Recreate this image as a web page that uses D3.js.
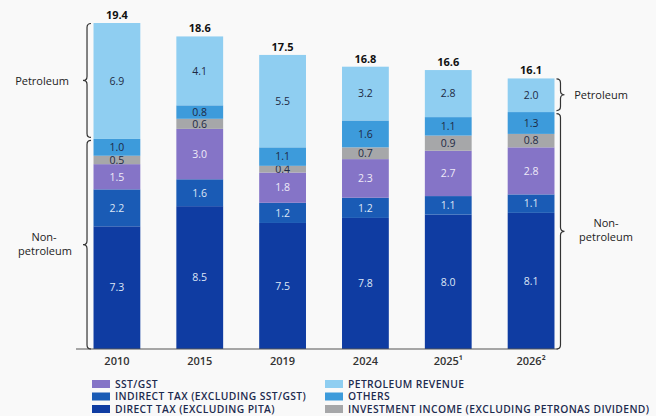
<!DOCTYPE html>
<html>
<head>
<meta charset="utf-8">
<script src="https://cdn.jsdelivr.net/npm/d3@7"></script>
<style>
  html, body { margin: 0; padding: 0; background: #f9f9f9; }
  svg { display: block; font-family: "Open Sans", "DejaVu Sans", sans-serif; }
</style>
</head>
<body>
<svg id="chart" width="656" height="416"></svg>
<script>
// ---- data ----
const years = ["2010", "2015", "2019", "2024", "2025¹", "2026²"];
const directTax = [7.3, 8.5, 7.5, 7.8, 8.0, 8.1];
const indirectTax = [2.2, 1.6, 1.2, 1.2, 1.1, 1.1];
const sstGst = [1.5, 3.0, 1.8, 2.3, 2.7, 2.8];
const investmentIncome = [0.5, 0.6, 0.4, 0.7, 0.9, 0.8];
const others = [1.0, 0.8, 1.1, 1.6, 1.1, 1.3];
const petroleumRevenue = [6.9, 4.1, 5.5, 3.2, 2.8, 2.0];
const totals = [19.4, 18.6, 17.5, 16.8, 16.6, 16.1];

const seriesKeys = ["direct", "indirect", "sst", "invest", "others", "petroleum"];
const seriesNames = {
  sst: "SST/GST",
  indirect: "INDIRECT TAX (EXCLUDING SST/GST)",
  direct: "DIRECT TAX (EXCLUDING PITA)",
  petroleum: "PETROLEUM REVENUE",
  others: "OTHERS",
  invest: "INVESTMENT INCOME (EXCLUDING PETRONAS DIVIDEND)"
};
const colors = {
  direct: "#0f3ca2",
  indirect: "#1a5bb5",
  sst: "#8574c7",
  invest: "#a6a7a9",
  others: "#3d9bdb",
  petroleum: "#8fcef1"
};
const labelColors = {
  direct: "#dde6f6",
  indirect: "#dde6f6",
  sst: "#eeeaf8",
  invest: "#1e2a44",
  others: "#1e2a44",
  petroleum: "#1e2a44"
};

const table = years.map((y, i) => ({
  year: y,
  direct: directTax[i],
  indirect: indirectTax[i],
  sst: sstGst[i],
  invest: investmentIncome[i],
  others: others[i],
  petroleum: petroleumRevenue[i],
  total: totals[i]
}));

const svg = d3.select("#chart");

const x = d3.scaleBand()
  .domain(years)
  .range([75.5, 572.5])
  .paddingInner(0.435)
  .paddingOuter(0.2175);

const y = d3.scaleLinear()
  .domain([0, 19.4])
  .range([349, 23]);

const stacked = d3.stack().keys(seriesKeys)(table);

// bars
const layers = svg.append("g").selectAll("g")
  .data(stacked)
  .join("g")
  .attr("fill", d => colors[d.key]);

layers.selectAll("rect")
  .data(d => d.map(v => Object.assign(v, { key: d.key })))
  .join("rect")
  .attr("x", d => x(d.data.year))
  .attr("width", x.bandwidth())
  .attr("y", d => y(d[1]))
  .attr("height", d => y(d[0]) - y(d[1]));

// segment labels
layers.selectAll("text")
  .data(d => d)
  .join("text")
  .attr("x", d => x(d.data.year) + x.bandwidth() / 2)
  .attr("y", d => (y(d[0]) + y(d[1])) / 2)
  .attr("dy", "0.36em")
  .attr("text-anchor", "middle")
  .attr("font-size", 10.5)
  .attr("fill", d => labelColors[d.key])
  .text(d => d3.format(".1f")(d[1] - d[0]));

// totals
svg.append("g").selectAll("text")
  .data(table)
  .join("text")
  .attr("x", d => x(d.year) + x.bandwidth() / 2)
  .attr("y", d => y(d.total) - 4)
  .attr("text-anchor", "middle")
  .attr("font-size", 11)
  .attr("font-weight", 700)
  .attr("fill", "#111")
  .text(d => d3.format(".1f")(d.total));

// baseline axis
const xAxis = d3.axisBottom(x).tickSize(0).tickPadding(8);
const axisG = svg.append("g")
  .attr("transform", `translate(0,${y(0)})`)
  .call(xAxis);
axisG.select(".domain").remove();
axisG.selectAll("text")
  .attr("font-family", "\"Open Sans\", sans-serif")
  .attr("font-size", 11)
  .attr("font-weight", 600)
  .attr("fill", "#333");

svg.append("line")
  .attr("x1", 76).attr("x2", 558)
  .attr("y1", y(0)).attr("y2", y(0))
  .attr("stroke", "#555").attr("stroke-width", 1.2);

// braces
function brace(xv, y0, y1, dir, r) {
  const mid = (y0 + y1) / 2;
  const c = -dir;
  return `M${xv + c * r},${y0} Q${xv},${y0} ${xv},${y0 + r}` +
    ` L${xv},${mid - r} Q${xv},${mid} ${xv + dir * r},${mid}` +
    ` Q${xv},${mid} ${xv},${mid + r}` +
    ` L${xv},${y1 - r} Q${xv},${y1} ${xv + c * r},${y1}`;
}
const first = 0, last = years.length - 1;
const petTopL = y(totals[first]);
const petBotL = y(totals[first] - petroleumRevenue[first]);
const petTopR = y(totals[last]);
const petBotR = y(totals[last] - petroleumRevenue[last]);
const bx = x(years[first]) - 6.5;
const rx = x(years[last]) + x.bandwidth() + 6;

const braceG = svg.append("g").attr("fill", "none").attr("stroke", "#333").attr("stroke-width", 1.2);
braceG.append("path").attr("d", brace(bx, petTopL + 0.5, petBotL - 1.5, -1, 4));
braceG.append("path").attr("d", brace(bx, petBotL + 1.5, y(0), -1, 4));
braceG.append("path").attr("d", brace(rx, petTopR + 0.5, petBotR - 1.5, 1, 4));
braceG.append("path").attr("d", brace(rx, petBotR + 1.5, y(0), 1, 4));

// brace labels
const labG = svg.append("g").attr("font-size", 11).attr("fill", "#222").attr("text-anchor", "middle");
labG.append("text").attr("x", 42).attr("y", (petTopL + petBotL) / 2).attr("dy", "0.35em").text("Petroleum");
labG.append("text").attr("x", 44).attr("y", (petBotL + y(0)) / 2 - 7).attr("dy", "0.35em").text("Non-");
labG.append("text").attr("x", 45).attr("y", (petBotL + y(0)) / 2 + 7).attr("dy", "0.35em").text("petroleum");
labG.append("text").attr("x", 601).attr("y", (petTopR + petBotR) / 2).attr("dy", "0.35em").text("Petroleum");
labG.append("text").attr("x", 606).attr("y", (petBotR + y(0)) / 2 - 7).attr("dy", "0.35em").text("Non-");
labG.append("text").attr("x", 606).attr("y", (petBotR + y(0)) / 2 + 7).attr("dy", "0.35em").text("petroleum");

// legend
const legendCols = [["sst", "indirect", "direct"], ["petroleum", "others", "invest"]];
const colX = [92, 325];
const rowY = [384, 396.5, 409];
legendCols.forEach((col, ci) => {
  col.forEach((key, ri) => {
    const g = svg.append("g").attr("transform", `translate(${colX[ci]},${rowY[ri]})`);
    g.append("rect").attr("x", 0).attr("y", -4).attr("width", 18).attr("height", 8).attr("fill", colors[key]);
    g.append("text").attr("x", 23).attr("y", 0).attr("dy", "0.36em")
      .attr("font-size", 10.3).attr("font-weight", 600).attr("letter-spacing", 0.4)
      .attr("fill", "#1d2b4f")
      .text(seriesNames[key]);
  });
});
</script>
</body>
</html>
